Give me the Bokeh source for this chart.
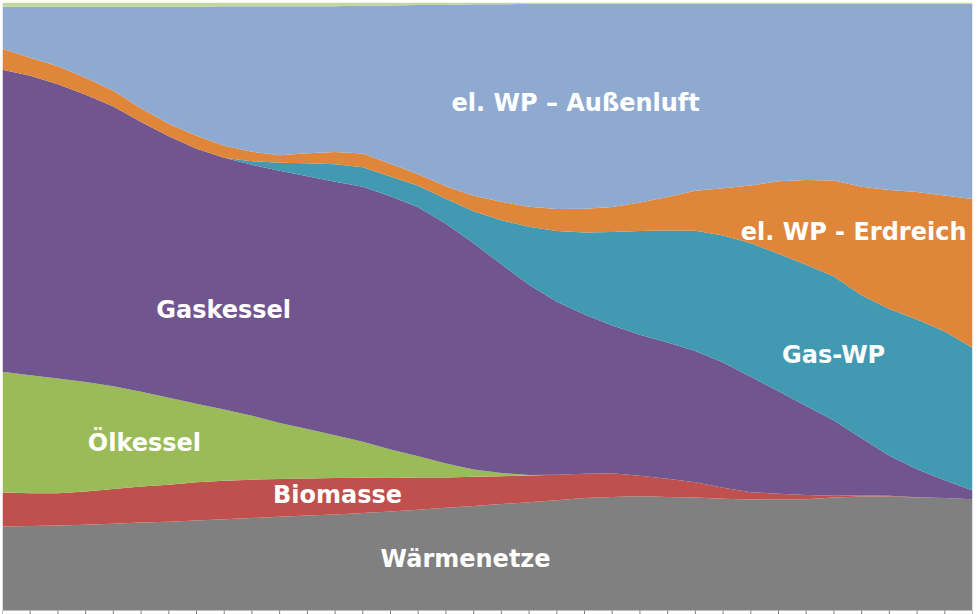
from bokeh.plotting import figure
from bokeh.models import Range1d, ColumnDataSource
from bokeh.core.properties import value
from bokeh.embed import file_html
from bokeh.resources import INLINE

years = list(range(2015, 2051))

waermenetze = [13.8, 13.9, 14.0, 14.1, 14.3, 14.5, 14.6, 14.8, 15.0, 15.2, 15.4, 15.6,
               15.8, 16.0, 16.3, 16.6, 16.9, 17.2, 17.5, 17.8, 18.1, 18.5, 18.7, 18.8,
               18.7, 18.6, 18.4, 18.3, 18.3, 18.3, 18.6, 18.8, 18.8, 18.6, 18.5, 18.3]
biomasse = [5.6, 5.4, 5.3, 5.5, 5.7, 5.9, 6.1, 6.3, 6.3, 6.3, 6.2, 6.1,
            6.0, 5.8, 5.5, 5.3, 5.0, 4.8, 4.6, 4.4, 4.2, 4.0, 3.9, 3.4,
            3.0, 2.5, 1.8, 1.2, 0.9, 0.7, 0.3, 0.2, 0.1, 0.05, 0.0, 0.0]
oelkessel = [19.9, 19.4, 18.9, 18.0, 16.9, 15.6, 14.3, 12.9, 11.7, 10.5, 9.2, 8.1,
             7.0, 5.9, 4.7, 3.5, 2.3, 1.2, 0.5, 0.1, 0.0, 0.0, 0.0, 0.0,
             0.0, 0.0, 0.0, 0.0, 0.0, 0.0, 0.0, 0.0, 0.0, 0.0, 0.0, 0.0]
gaskessel = [49.67, 49.26, 48.44, 47.29, 46.05, 44.41, 43.01, 41.91, 41.37, 41.25, 41.41, 41.53,
             41.69, 41.86, 41.69, 41.04, 39.44, 37.25, 34.34, 31.28, 28.44, 26.23, 24.33, 23.19,
             22.42, 21.6, 20.6, 19.0, 16.86, 14.64, 12.37, 9.39, 6.61, 4.61, 2.93, 1.43]
gas_wp = [0.0, 0.0, 0.0, 0.0, 0.0, 0.0, 0.0, 0.0, 0.0, 0.58, 1.32, 2.14,
          2.88, 3.21, 3.29, 3.54, 4.11, 5.26, 7.24, 9.54, 11.6, 13.49, 15.38, 17.11,
          18.42, 19.8, 20.9, 22.0, 22.62, 23.19, 23.68, 23.6, 24.18, 24.67, 24.51, 23.52]
wp_erdreich = [3.45, 2.96, 2.96, 2.80, 2.63, 2.30, 2.06, 2.14, 1.97, 1.56, 1.23, 1.64,
               2.0, 2.25, 2.06, 1.89, 2.06, 2.55, 3.04, 3.29, 3.62, 3.91, 4.11, 4.69,
               5.51, 6.58, 7.81, 9.54, 11.92, 13.93, 15.82, 17.85, 19.61, 20.97, 22.37, 24.46]
wp_aussenluft = [6.91, 8.39, 9.78, 11.68, 13.81, 16.69, 19.24, 21.22, 22.94, 23.93, 24.50, 24.18,
                 23.98, 24.31, 26.07, 27.88, 29.85, 31.50, 32.48, 33.39, 33.72, 33.75, 33.47, 32.73,
                 31.83, 30.76, 30.35, 29.94, 29.20, 29.00, 29.08, 30.19, 30.73, 31.01, 31.58, 32.13]
sonstige = [0.7, 0.7, 0.7, 0.7, 0.7, 0.7, 0.7, 0.7, 0.6, 0.6, 0.6, 0.6,
            0.6, 0.5, 0.5, 0.4, 0.4, 0.3, 0.3, 0.2, 0.2, 0.2, 0.2, 0.2,
            0.2, 0.2, 0.2, 0.2, 0.2, 0.2, 0.2, 0.2, 0.2, 0.2, 0.2, 0.2]

series_keys = ["waermenetze", "biomasse", "oelkessel", "gaskessel",
               "gas_wp", "wp_erdreich", "wp_aussenluft", "sonstige"]
series_vals = [waermenetze, biomasse, oelkessel, gaskessel,
               gas_wp, wp_erdreich, wp_aussenluft, sonstige]
colors = ["#808080", "#c0504d", "#9bbb59", "#70558f",
          "#4299b2", "#e0863b", "#8faad1", "#c3d69b"]

label_texts = ["el. WP – Außenluft", "el. WP - Erdreich", "Gaskessel", "Gas-WP",
               "Ölkessel", "Biomasse", "Wärmenetze"]
label_x = [2035.68, 2045.71, 2022.98, 2044.99, 2020.12, 2027.09, 2031.71]
label_y = [83.4, 62.3, 49.5, 42.1, 27.5, 19.0, 8.55]

# 100 % stacking
totals = [sum(v[i] for v in series_vals) for i in range(len(years))]
data = {"year": years}
for k, v in zip(series_keys, series_vals):
    data[k] = [100.0 * v[i] / totals[i] for i in range(len(years))]
source = ColumnDataSource(data)

TICK = -100.0 * 4 / 608  # tick length below the baseline (4 px)

p = figure(frame_width=970, frame_height=612, output_backend="svg", toolbar_location=None,
           x_range=Range1d(2015, 2050), y_range=Range1d(TICK, 100),
           x_axis_type=None, y_axis_type=None,
           min_border_left=2, min_border_right=5, min_border_top=2, min_border_bottom=0,
           background_fill_color="white", border_fill_color="white")
p.outline_line_color = None
p.xgrid.visible = False
p.ygrid.visible = False

p.varea_stack(stackers=series_keys, x="year", color=colors, source=source)

# axis tick marks at every year, below the area
p.segment(x0=years, y0=[0] * len(years), x1=years, y1=[TICK] * len(years),
          line_color="#7f7f7f", line_width=1)

p.text(x=label_x, y=label_y, text=label_texts, text_color="white",
       text_font=value("DejaVu Sans"), text_font_style="bold", text_font_size="24px",
       text_align="center", text_baseline="middle")

open("out.html", "w").write(file_html(p, INLINE))
